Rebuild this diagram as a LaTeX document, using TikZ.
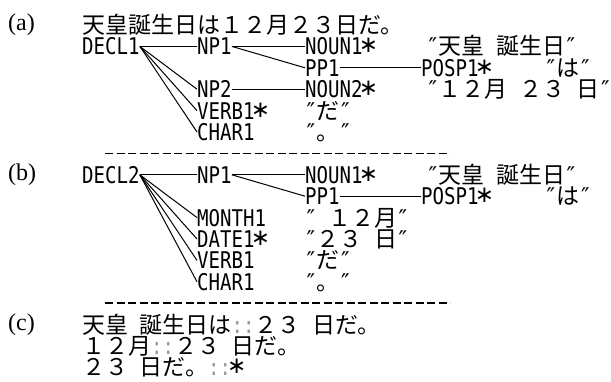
\documentclass[tikz,border=0pt]{standalone}
\usepackage{fontspec}
\setmainfont{Liberation Serif}
\newfontfamily\jpf{Noto Sans CJK JP}
\newfontfamily\monof[FakeStretch=0.83]{DejaVu Sans Mono}
\newfontfamily\dqf{DejaVu Sans}
\newcommand\dq{\makebox[11.5pt][c]{\dqf ″}}
\newcommand\hsp{\hspace*{11.5pt}}
\newcommand\gdot{\makebox[11.5pt][c]{\color{black!40}\monof :}}
\newcommand\stx{\makebox[11.5pt][c]{\raisebox{2pt}{\dqf ∗}}}
\tikzset{
  lbl/.style={inner sep=0pt, anchor=west, text height=16.8pt, text depth=0pt,
    font=\monof\fontsize{23pt}{23pt}\selectfont},
  jp/.style={lbl, font=\jpf\fontsize{23pt}{23pt}\selectfont},
  tag/.style={inner sep=0pt, anchor=west, font=\fontsize{24pt}{24pt}\selectfont},
  conn/.style={line width=1pt, black},
  sep/.style={line width=1.6pt, dash pattern=on 8pt off 3.5pt}
}
\begin{document}
\begin{tikzpicture}[x=1pt,y=-1pt]
\useasboundingbox[fill=white] (0,0) rectangle (611,381);
% ---------- (a)
\node[tag] (ta) at (8,25) {(a)};
\node[jp] (title) at (82,25) {天皇誕生日は１２月２３日だ。};
\node[lbl] (decl1) at (82,46.4) {DECL1};
\node[lbl] (np1a) at (197,46.4) {NP1};
\node[lbl] (noun1a) at (305,46.4) {NOUN1\stx};
\node[jp] (s1a) at (427,46.4) {\dq 天皇\hsp 誕生日\dq};
\node[lbl] (pp1a) at (305,67.8) {PP1};
\node[lbl] (posp1a) at (421,67.8) {POSP1\stx};
\node[jp] (s2a) at (545,67.8) {\dq は\dq};
\node[lbl] (np2a) at (197,89.2) {NP2};
\node[lbl] (noun2a) at (305,89.2) {NOUN2\stx};
\node[jp] (s3a) at (427,89.2) {\dq １２月\hsp ２３\hsp 日\dq};
\node[lbl] (verb1a) at (197,110.6) {VERB1\stx};
\node[jp] (s4a) at (305,110.6) {\dq だ\dq};
\node[lbl] (char1a) at (197,132) {CHAR1};
\node[jp] (s5a) at (305,132) {\dq 。\dq};
\draw[conn] (decl1.east) -- (np1a.west);
\draw[conn] (decl1.east) -- (np2a.west);
\draw[conn] (decl1.east) -- (verb1a.west);
\draw[conn] (decl1.east) -- (char1a.west);
\draw[conn] (np1a.east) -- (noun1a.west);
\draw[conn] (np1a.east) -- (pp1a.west);
\draw[conn] (pp1a.east) -- (posp1a.west);
\draw[conn] (np2a.east) -- (noun2a.west);
\draw[sep] (105,153.4) -- (450,153.4);
% ---------- (b)
\node[tag] (tb) at (8,174.8) {(b)};
\node[lbl] (decl2) at (82,174.8) {DECL2};
\node[lbl] (np1b) at (197,174.8) {NP1};
\node[lbl] (noun1b) at (305,174.8) {NOUN1\stx};
\node[jp] (s1b) at (427,174.8) {\dq 天皇\hsp 誕生日\dq};
\node[lbl] (pp1b) at (305,196.2) {PP1};
\node[lbl] (posp1b) at (421,196.2) {POSP1\stx};
\node[jp] (s2b) at (545,196.2) {\dq は\dq};
\node[lbl] (month1) at (197,217.6) {MONTH1};
\node[jp] (s3b) at (305,217.6) {\dq\hsp １２月\dq};
\node[lbl] (date1) at (197,239) {DATE1\stx};
\node[jp] (s4b) at (305,239) {\dq ２３\hsp 日\dq};
\node[lbl] (verb1b) at (197,260.4) {VERB1};
\node[jp] (s5b) at (305,260.4) {\dq だ\dq};
\node[lbl] (char1b) at (197,281.8) {CHAR1};
\node[jp] (s6b) at (305,281.8) {\dq 。\dq};
\draw[conn] (decl2.east) -- (np1b.west);
\draw[conn] (decl2.east) -- (month1.west);
\draw[conn] (decl2.east) -- (date1.west);
\draw[conn] (decl2.east) -- (verb1b.west);
\draw[conn] (decl2.east) -- (char1b.west);
\draw[conn] (np1b.east) -- (noun1b.west);
\draw[conn] (np1b.east) -- (pp1b.west);
\draw[conn] (pp1b.east) -- (posp1b.west);
\draw[sep] (105,303.2) -- (450,303.2);
% ---------- (c)
\node[tag] (tc) at (8,324.6) {(c)};
\node[jp] (c1) at (82,324.6) {天皇\hsp 誕生日は\gdot\gdot ２３\hsp 日だ。};
\node[jp] (c2) at (82,346) {１２月\gdot\gdot ２３\hsp 日だ。};
\node[jp] (c3) at (82,367.4) {２３\hsp 日だ。\gdot\gdot\stx};
\end{tikzpicture}
\end{document}
